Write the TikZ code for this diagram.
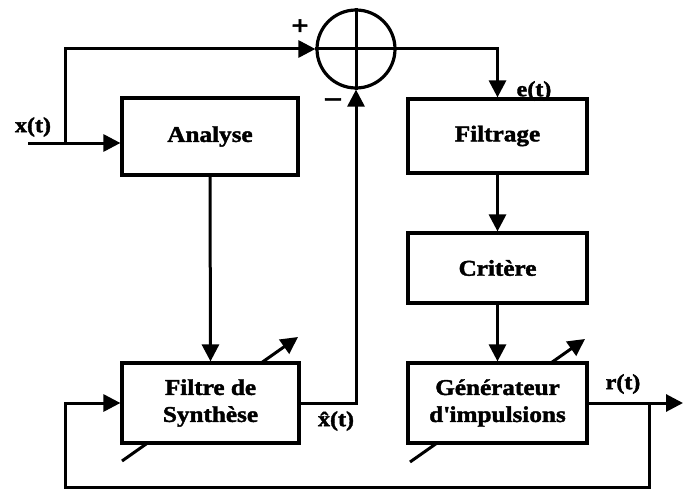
\documentclass[tikz,border=0pt]{standalone}
\usepackage{fontspec}
\setmainfont{Liberation Serif}[FakeStretch=1.12, BoldFeatures={FakeBold=1.8}]
\usetikzlibrary{arrows.meta}
\begin{document}
\begin{tikzpicture}[x=1pt,y=-1pt,
  box/.style={draw, line width=3.2pt, fill=white, inner sep=0pt, align=center,
    font=\bfseries\fontsize{22.5}{27}\selectfont},
  wire/.style={line width=3pt},
  arr/.style={wire, -{Triangle[length=17pt,width=17pt]}},
  lbl/.style={font=\bfseries\fontsize{21.5}{22}\selectfont, inner sep=0pt},
  sign/.style={font=\bfseries\fontsize{27}{27}\selectfont, inner sep=0pt}]
\useasboundingbox (0,0) rectangle (692,495);

% adjustment arrows (behind the boxes)
\coordinate (d1s) at (122,461);
\coordinate (d1e) at (298,337);
\coordinate (d2s) at (410,462);
\coordinate (d2e) at (585,339);
\draw[arr] (d1s) -- (d1e);
\draw[arr] (d2s) -- (d2e);

% blocks
\node[box, minimum width=176pt, minimum height=77pt] (ana) at (210,136.5) {Analyse};
\node[box, minimum width=177pt, minimum height=80pt] (fsyn) at (210.5,403) {Filtre de\\Synthèse};
\node[box, minimum width=179pt, minimum height=74pt] (filt) at (497.5,136) {Filtrage};
\node[box, minimum width=179pt, minimum height=70pt] (crit) at (497.5,268) {Critère};
\node[box, minimum width=179pt, minimum height=80pt] (gen) at (497.5,403) {Générateur\\d\textquotesingle impulsions};

% summing junction
\node[circle, draw, line width=3.2pt, minimum size=78pt, inner sep=0pt] (sum) at (356,49) {};
\draw[wire] (sum.north) -- (sum.south);
\draw[wire] (sum.west) -- (sum.east);

% input
\coordinate (xin) at (28,143);
\coordinate (xj) at (65,143);
\draw[wire] (xin) -- (xj);
\draw[arr] (xj) -- (ana.west |- xj);
\draw[arr] (xj) |- (sum.west);

% main paths
\draw[arr] (ana.south) -- (fsyn.north);
\draw[arr] (fsyn.east) -| (sum.south);
\draw[arr] (sum.east) -| (filt.north);
\draw[arr] (filt.south) -- (crit.north);
\draw[arr] (crit.south) -- (gen.north);

% output and feedback
\coordinate (rout) at (683,403);
\coordinate (tap) at (649,403);
\coordinate (fbr) at (649,487);
\coordinate (fbl) at (65,487);
\draw[arr] (gen.east) -- (rout);
\draw[arr] (tap) -- (fbr) -- (fbl) |- (fsyn.west);

% labels
\node[lbl] (lx) at (33,127) {x(t)};
\node[sign] (lplus) at (300,27) {+};
\node[sign] (lminus) at (333,102) {–};
\node[lbl] (le) at (534,91) {e(t)};
\node[lbl] (lxh) at (336,421) {\^{x}(t)};
\node[lbl] (lr) at (623,384) {r(t)};
\end{tikzpicture}
\end{document}
